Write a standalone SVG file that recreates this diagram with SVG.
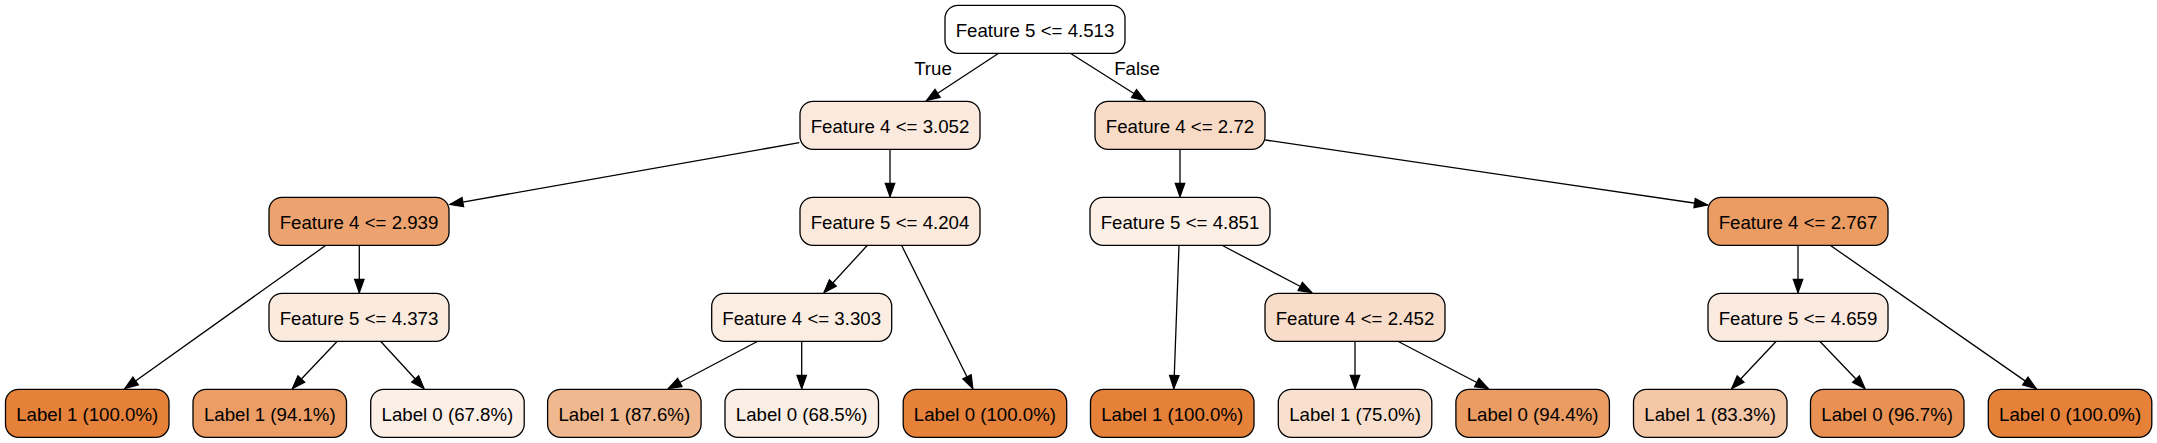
<svg xmlns="http://www.w3.org/2000/svg" width="2157" height="443" viewBox="0 0 2157 443">
<style>
.n rect{stroke:#000;stroke-width:1.3;}
text{font-family:"Liberation Sans",Arial,Helvetica,sans-serif;font-size:18.67px;text-anchor:middle;fill:#000;}
.e line{stroke:#000;stroke-width:1.3;marker-end:url(#arr);}
</style>
<defs>
<marker id="arr" markerUnits="userSpaceOnUse" markerWidth="18" markerHeight="14" viewBox="0 0 18 14" refX="15" refY="7" orient="auto">
<path d="M2,2.33 L15,7 L2,11.67 z" fill="#000" stroke="#000" stroke-width="1.3"/>
</marker>
</defs>
<rect width="2157" height="443" fill="#fff"/>
<g id="connectors" class="e">
<line x1="998.3" y1="53.5" x2="926.7" y2="100.5"/>
<line x1="1070.7" y1="53.5" x2="1145" y2="100.5"/>
<line x1="799.3" y1="142.7" x2="450" y2="204.3"/>
<line x1="890" y1="149.5" x2="890" y2="196.5"/>
<line x1="1180" y1="149.5" x2="1180" y2="196.5"/>
<line x1="1265.2" y1="140" x2="1707.5" y2="205"/>
<line x1="325.6" y1="245.5" x2="125" y2="388.5"/>
<line x1="359.3" y1="245.5" x2="359.3" y2="292.5"/>
<line x1="867.2" y1="245.5" x2="824" y2="292.5"/>
<line x1="901.7" y1="245.5" x2="972.8" y2="388.5"/>
<line x1="1179" y1="245.5" x2="1173.8" y2="388.5"/>
<line x1="1222.4" y1="245.5" x2="1311.8" y2="292.5"/>
<line x1="1798" y1="245.5" x2="1798" y2="292.5"/>
<line x1="1830.5" y1="245.5" x2="2036" y2="388.5"/>
<line x1="337" y1="341.5" x2="292.4" y2="388.5"/>
<line x1="380.8" y1="341.5" x2="424" y2="388.5"/>
<line x1="757.3" y1="341.5" x2="668.3" y2="388.5"/>
<line x1="801.7" y1="341.5" x2="801.7" y2="388.5"/>
<line x1="1355" y1="341.5" x2="1355" y2="388.5"/>
<line x1="1398.3" y1="341.5" x2="1488.3" y2="388.5"/>
<line x1="1776" y1="341.5" x2="1731.7" y2="388.5"/>
<line x1="1820" y1="341.5" x2="1865" y2="388.5"/>
<text x="933" y="75">True</text>
<text x="1137" y="75">False</text>
</g>
<g id="root" class="n"><rect x="945" y="5.33" width="180" height="48" rx="13" fill="#ffffff"/><text x="1035" y="36.5">Feature 5 &lt;= 4.513</text></g>
<g id="n3052" class="n"><rect x="800" y="101.33" width="180" height="48" rx="13" fill="#fbe9dd"/><text x="890" y="132.5">Feature 4 &lt;= 3.052</text></g>
<g id="n272" class="n"><rect x="1095" y="101.33" width="170" height="48" rx="13" fill="#f8dbc7"/><text x="1180" y="132.5">Feature 4 &lt;= 2.72</text></g>
<g id="n2939" class="n"><rect x="269" y="197.33" width="180" height="48" rx="13" fill="#eca36f"/><text x="359" y="228.5">Feature 4 &lt;= 2.939</text></g>
<g id="n4204" class="n"><rect x="800" y="197.33" width="180" height="48" rx="13" fill="#fbe9dc"/><text x="890" y="228.5">Feature 5 &lt;= 4.204</text></g>
<g id="n4851" class="n"><rect x="1090" y="197.33" width="180" height="48" rx="13" fill="#fcefe6"/><text x="1180" y="228.5">Feature 5 &lt;= 4.851</text></g>
<g id="n2767" class="n"><rect x="1708" y="197.33" width="180" height="48" rx="13" fill="#eb9c63"/><text x="1798" y="228.5">Feature 4 &lt;= 2.767</text></g>
<g id="n4373" class="n"><rect x="269" y="293.33" width="180" height="48" rx="13" fill="#fbeade"/><text x="359" y="324.5">Feature 5 &lt;= 4.373</text></g>
<g id="n3303" class="n"><rect x="711.7" y="293.33" width="180" height="48" rx="13" fill="#fcede2"/><text x="801.7" y="324.5">Feature 4 &lt;= 3.303</text></g>
<g id="n2452" class="n"><rect x="1265" y="293.33" width="180" height="48" rx="13" fill="#f8ddca"/><text x="1355" y="324.5">Feature 4 &lt;= 2.452</text></g>
<g id="n4659" class="n"><rect x="1708" y="293.33" width="180" height="48" rx="13" fill="#fbeadf"/><text x="1798" y="324.5">Feature 5 &lt;= 4.659</text></g>
<g id="leaf1" class="n"><rect x="5.5" y="389.33" width="163.5" height="48" rx="13" fill="#e58139"/><text x="87.2" y="420.5">Label 1 (100.0%)</text></g>
<g id="leaf2" class="n"><rect x="193" y="389.33" width="153.5" height="48" rx="13" fill="#eb9d65"/><text x="269.8" y="420.5">Label 1 (94.1%)</text></g>
<g id="leaf3" class="n"><rect x="370.7" y="389.33" width="153.5" height="48" rx="13" fill="#fcefe6"/><text x="447.4" y="420.5">Label 0 (67.8%)</text></g>
<g id="leaf4" class="n"><rect x="547.6" y="389.33" width="153.5" height="48" rx="13" fill="#f0b88f"/><text x="624.3" y="420.5">Label 1 (87.6%)</text></g>
<g id="leaf5" class="n"><rect x="725" y="389.33" width="153.5" height="48" rx="13" fill="#fbeee4"/><text x="801.7" y="420.5">Label 0 (68.5%)</text></g>
<g id="leaf6" class="n"><rect x="903.2" y="389.33" width="163.5" height="48" rx="13" fill="#e58139"/><text x="984.9" y="420.5">Label 0 (100.0%)</text></g>
<g id="leaf7" class="n"><rect x="1090.5" y="389.33" width="163.5" height="48" rx="13" fill="#e58139"/><text x="1172.2" y="420.5">Label 1 (100.0%)</text></g>
<g id="leaf8" class="n"><rect x="1278.3" y="389.33" width="153.5" height="48" rx="13" fill="#f9e0ce"/><text x="1355" y="420.5">Label 1 (75.0%)</text></g>
<g id="leaf9" class="n"><rect x="1455.9" y="389.33" width="153.5" height="48" rx="13" fill="#eb9c63"/><text x="1532.6" y="420.5">Label 0 (94.4%)</text></g>
<g id="leaf10" class="n"><rect x="1633.5" y="389.33" width="153.5" height="48" rx="13" fill="#f4c7a7"/><text x="1710.2" y="420.5">Label 1 (83.3%)</text></g>
<g id="leaf11" class="n"><rect x="1810.5" y="389.33" width="153.5" height="48" rx="13" fill="#e89152"/><text x="1887.2" y="420.5">Label 0 (96.7%)</text></g>
<g id="leaf12" class="n"><rect x="1988.3" y="389.33" width="163.5" height="48" rx="13" fill="#e58139"/><text x="2070.1" y="420.5">Label 0 (100.0%)</text></g>
</svg>
